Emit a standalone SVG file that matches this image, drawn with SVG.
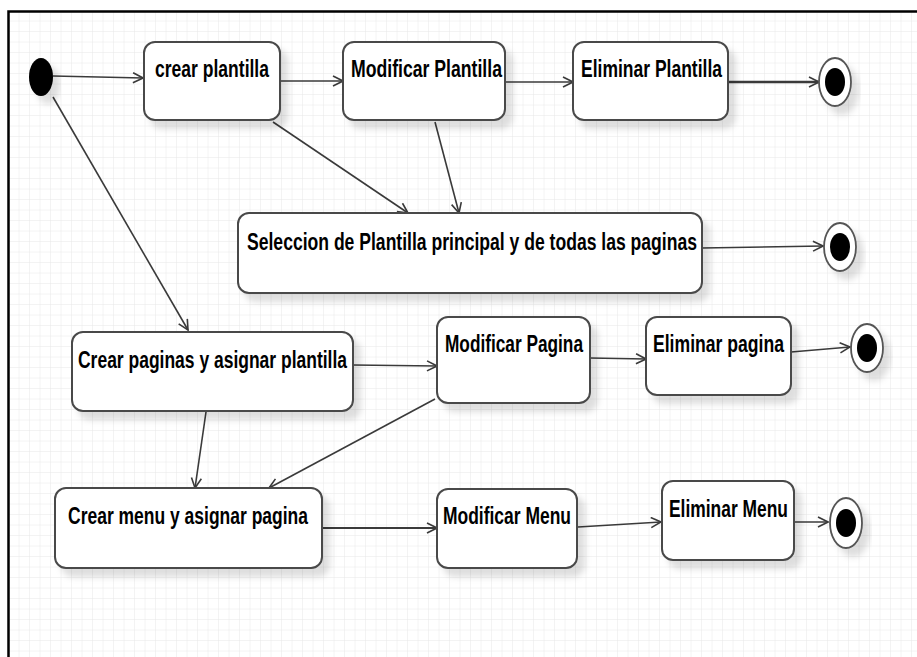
<svg xmlns="http://www.w3.org/2000/svg" width="917" height="657" viewBox="0 0 917 657">
  <style>
    .state rect { fill: #ffffff; stroke: #4a4a4a; stroke-width: 2; filter: url(#shadow); }
    .state text { font-family: "Liberation Sans Narrow", "Liberation Sans", Arial, sans-serif; font-size: 23px; font-weight: bold; fill: #000; }
    .conn path { fill: none; stroke: #3a3a3a; stroke-width: 1.6; marker-end: url(#open); }
    .final .ring { fill: #ffffff; stroke: #555; stroke-width: 1.8; filter: url(#shadow); }
    .final .dot, .initial ellipse { fill: #000; }
  </style>
  <defs>
    <pattern id="grid" x="9" y="11" width="10.5" height="10.5" patternUnits="userSpaceOnUse">
      <path d="M10.5,0 V10.5 M0,10.5 H10.5" fill="none" stroke="#e8e8e8" stroke-width="1"/>
    </pattern>
    <filter id="shadow" x="-20%" y="-20%" width="150%" height="160%">
      <feDropShadow dx="7" dy="8" stdDeviation="3" flood-color="#000" flood-opacity="0.13"/>
    </filter>
    <marker id="open" viewBox="0 0 12 12" refX="11" refY="6" markerWidth="12" markerHeight="12" markerUnits="userSpaceOnUse" orient="auto">
      <path d="M1,1 L11,6 L1,11" fill="none" stroke="#3a3a3a" stroke-width="1.6"/>
    </marker>
  </defs>

  <!-- canvas -->
  <rect x="0" y="0" width="917" height="657" fill="#ffffff"/>
  <rect x="9" y="12" width="920" height="660" fill="url(#grid)"/>
  <path d="M8.5,680 V11.5 H930" fill="none" stroke="#000" stroke-width="2.5"/>

  <!-- transitions -->
  <g id="connectors" class="conn">
    <path d="M53,76 L143,78"/>
    <path d="M280,81 L343,81"/>
    <path d="M505,82 L573,82"/>
    <path d="M728,82 L819,82" style="stroke-width:2.6"/>
    <path d="M273,122 L408,213"/>
    <path d="M435,122 L459,213"/>
    <path d="M53,97 L188,330"/>
    <path d="M702,248 L823,246"/>
    <path d="M353,365 L437,366"/>
    <path d="M590,358 L646,359"/>
    <path d="M791,352 L850,347"/>
    <path d="M206,412 L195,488"/>
    <path d="M435,399 L269,488"/>
    <path d="M322,528 L437,528" style="stroke-width:2.2"/>
    <path d="M578,527 L661,522"/>
    <path d="M795,522 L828,522"/>
  </g>

  <!-- start -->
  <g id="start" class="initial">
    <ellipse cx="41" cy="77" rx="12" ry="19" filter="url(#shadow)"/>
  </g>

  <!-- activities -->
  <g id="crear-plantilla" class="state">
    <rect x="144" y="42" width="136" height="78" rx="11"/>
    <text x="155" y="77" textLength="114" lengthAdjust="spacingAndGlyphs">crear plantilla</text>
  </g>
  <g id="modificar-plantilla" class="state">
    <rect x="343" y="42" width="162" height="78" rx="11"/>
    <text x="351" y="77" textLength="151" lengthAdjust="spacingAndGlyphs">Modificar Plantilla</text>
  </g>
  <g id="eliminar-plantilla" class="state">
    <rect x="573" y="42" width="155" height="78" rx="11"/>
    <text x="581" y="77" textLength="141" lengthAdjust="spacingAndGlyphs">Eliminar Plantilla</text>
  </g>
  <g id="seleccion-plantilla" class="state">
    <rect x="238" y="213" width="464" height="80" rx="11"/>
    <text x="247" y="250" textLength="450" lengthAdjust="spacingAndGlyphs">Seleccion de Plantilla principal y de todas las paginas</text>
  </g>
  <g id="crear-paginas" class="state">
    <rect x="72" y="332" width="281" height="79" rx="11"/>
    <text x="78" y="368" textLength="269" lengthAdjust="spacingAndGlyphs">Crear paginas y asignar plantilla</text>
  </g>
  <g id="modificar-pagina" class="state">
    <rect x="437" y="317" width="153" height="86" rx="11"/>
    <text x="445" y="352" textLength="138" lengthAdjust="spacingAndGlyphs">Modificar Pagina</text>
  </g>
  <g id="eliminar-pagina" class="state">
    <rect x="646" y="317" width="145" height="78" rx="11"/>
    <text x="653" y="352" textLength="131" lengthAdjust="spacingAndGlyphs">Eliminar pagina</text>
  </g>
  <g id="crear-menu" class="state">
    <rect x="55" y="488" width="267" height="80" rx="11"/>
    <text x="68" y="524" textLength="240" lengthAdjust="spacingAndGlyphs">Crear menu y asignar pagina</text>
  </g>
  <g id="modificar-menu" class="state">
    <rect x="437" y="489" width="140" height="79" rx="11"/>
    <text x="443" y="524" textLength="128" lengthAdjust="spacingAndGlyphs">Modificar Menu</text>
  </g>
  <g id="eliminar-menu" class="state">
    <rect x="662" y="481" width="132" height="79" rx="11"/>
    <text x="669" y="517" textLength="119" lengthAdjust="spacingAndGlyphs">Eliminar Menu</text>
  </g>

  <!-- ends -->
  <g id="end-plantilla" class="final">
    <ellipse class="ring" cx="835" cy="82" rx="16" ry="24"/>
    <ellipse class="dot" cx="835" cy="82" rx="10" ry="14"/>
  </g>
  <g id="end-seleccion" class="final">
    <ellipse class="ring" cx="840" cy="247" rx="16" ry="24"/>
    <ellipse class="dot" cx="840" cy="247" rx="10" ry="14"/>
  </g>
  <g id="end-pagina" class="final">
    <ellipse class="ring" cx="867" cy="348" rx="16" ry="24"/>
    <ellipse class="dot" cx="867" cy="348" rx="10" ry="14"/>
  </g>
  <g id="end-menu" class="final">
    <ellipse class="ring" cx="846" cy="523" rx="16" ry="25"/>
    <ellipse class="dot" cx="846" cy="523" rx="10" ry="14"/>
  </g>
</svg>
